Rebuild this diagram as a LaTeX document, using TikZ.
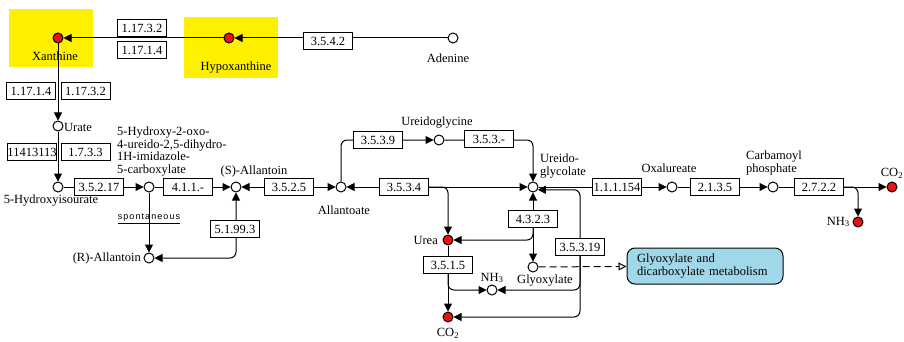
\documentclass[tikz,border=0pt]{standalone}
\usepackage{fontspec}
\setmainfont{Liberation Serif}
\newfontfamily\spfont[LetterSpace=12]{Liberation Sans}
\usepackage{tikz}
\usetikzlibrary{arrows.meta,backgrounds}
\definecolor{hilite}{HTML}{FFF000}
\definecolor{hitred}{HTML}{EE1111}
\definecolor{mapblue}{HTML}{A0D8EA}
\tikzset{
  cpd/.style={circle, draw=black, fill=#1, line width=1pt, minimum size=10pt, inner sep=0pt},
  cpd/.default=white,
  ec/.style={draw=black, fill=white, line width=1pt, minimum width=49pt, minimum height=17pt,
    inner sep=0pt, font=\fontsize{12.5}{12.5}\selectfont},
  hl/.style={fill=hilite, inner sep=0pt},
  lbl/.style={inner sep=0pt, font=\fontsize{12.5}{12.5}\selectfont, align=left},
  rxn/.style={-{Triangle[length=8pt,width=8pt]}, line width=1pt, rounded corners=6pt},
  rxnb/.style={{Triangle[length=8pt,width=8pt]}-{Triangle[length=8pt,width=8pt]}, line width=1pt,
    rounded corners=6pt},
  mapbox/.style={rounded corners=8pt, draw=black, fill=mapblue, line width=1pt, text width=136pt,
    inner xsep=10pt, minimum height=36pt, align=left, font=\fontsize{12.5}{12.5}\selectfont},
  maplink/.style={-{Triangle[open,length=8pt,width=8pt]}, dash pattern=on 7pt off 4pt, line width=1pt},
}

\begin{document}
\begin{tikzpicture}[x=1pt,y=-1pt]
  \useasboundingbox (0,0) rectangle (904,342);
  % compounds
  \node[cpd=hitred] (xan) at (58,38) {};
  \node[cpd=hitred] (hyp) at (229,38) {};
  \node[cpd] (ade) at (453,38) {};
  \node[cpd] (urate) at (58,126) {};
  \node[cpd] (hiu) at (58,187) {};
  \node[cpd] (ohcu) at (149,187) {};
  \node[cpd] (sall) at (236,187) {};
  \node[cpd] (rall) at (149,258) {};
  \node[cpd] (allt) at (341,187) {};
  \node[cpd] (ugly) at (439,140) {};
  \node[cpd] (uglc) at (533,187) {};
  \node[cpd=hitred] (urea) at (448,240) {};
  \node[cpd] (glyox) at (533,267) {};
  \node[cpd] (nh3a) at (492,290) {};
  \node[cpd=hitred] (co2a) at (448,317) {};
  \node[cpd] (oxal) at (672,187) {};
  \node[cpd] (cbp) at (773,187) {};
  \node[cpd=hitred] (co2b) at (892,187) {};
  \node[cpd=hitred] (nh3b) at (858,222) {};
  % labels
  \node[lbl] (lxan) at (55,56) {Xanthine};
  \node[lbl] (lhyp) at (236,68) {Hypoxanthine};
  \node[lbl] (lade) at (448,58) {Adenine};
  \node[lbl,anchor=west] (lurate) at (64,127) {Urate};
  \node[lbl] (lhiu) at (51,201) {5-Hydroxyisourate};
  \node[lbl,anchor=north west] (lohcu) at (117,127) {5-Hydroxy-2-oxo-\\4-ureido-2,5-dihydro-\\1H-imidazole-\\5-carboxylate};
  \node[lbl] (lsall) at (254,171) {(S)-Allantoin};
  \node[lbl,anchor=east] (lrall) at (141,258) {(R)-Allantoin};
  \node[inner sep=0pt, font=\spfont\fontsize{9}{9}\selectfont] (lspont) at (149,219) {\underline{spontaneous}};
  \node[lbl] (lallt) at (344,210) {Allantoate};
  \node[lbl] (lugly) at (437,123) {Ureidoglycine};
  \node[lbl,anchor=north west] (luglc) at (540,154) {Ureido-\\glycolate};
  \node[lbl,anchor=east] (lurea) at (438,240) {Urea};
  \node[lbl] (lglyox) at (545,281) {Glyoxylate};
  \node[lbl] (lnh3a) at (492,278) {NH\textsubscript{3}};
  \node[lbl] (lco2a) at (448,333) {CO\textsubscript{2}};
  \node[lbl] (loxal) at (669,168) {Oxalureate};
  \node[lbl,anchor=north west] (lcbp) at (746,151) {Carbamoyl\\phosphate};
  \node[lbl] (lco2b) at (892,173) {CO\textsubscript{2}};
  \node[lbl,anchor=east] (lnh3b) at (850,222) {NH\textsubscript{3}};
  % enzymes
  \node[ec] (e1) at (142,28) {1.17.3.2};
  \node[ec] (e2) at (142,50) {1.17.1.4};
  \node[ec] (e3) at (328,41) {3.5.4.2};
  \node[ec] (e4) at (31,91) {1.17.1.4};
  \node[ec] (e5) at (85.5,91) {1.17.3.2};
  \node[ec] (e6) at (32,152) {11413113};
  \node[ec] (e7) at (85.5,152) {1.7.3.3};
  \node[ec] (e8) at (99,187) {3.5.2.17};
  \node[ec] (e9) at (188,187) {4.1.1.-};
  \node[ec] (e10) at (289,187) {3.5.2.5};
  \node[ec] (e11) at (235,229) {5.1.99.3};
  \node[ec] (e12) at (378,140) {3.5.3.9};
  \node[ec] (e13) at (489,139) {3.5.3.-};
  \node[ec] (e14) at (404,187) {3.5.3.4};
  \node[ec] (e15) at (533,219) {4.3.2.3};
  \node[ec] (e16) at (580,247) {3.5.3.19};
  \node[ec] (e17) at (448,265) {3.5.1.5};
  \node[ec] (e18) at (617,187) {1.1.1.154};
  \node[ec] (e19) at (715,187) {2.1.3.5};
  \node[ec] (e20) at (819,187) {2.7.2.2};
  \node[mapbox] (glymap) at (705,266) {Glyoxylate and\\dicarboxylate metabolism};
  \begin{pgfonlayer}{background}
    \node[hl, minimum width=84pt, minimum height=58pt] (hlxan) at (51,38) {};
    \node[hl, minimum width=94pt, minimum height=61pt] (hlhyp) at (231,47.5) {};
    \draw[rxn] (hyp) -- (xan);
    \draw[rxn] (ade) -- (hyp);
    \draw[rxn] (xan) -- (urate);
    \draw[rxn] (urate) -- (hiu);
    \draw[rxn] (hiu) -- (ohcu);
    \draw[rxn] (ohcu) -- (sall);
    \draw[rxn] (ohcu) -- (rall);
    \draw[rxnb] (sall) |- (rall);
    \draw[rxnb] (sall) -- (allt);
    \draw[rxn] (allt) |- (ugly);
    \draw[rxn] (ugly) -| (uglc);
    \draw[rxnb] (allt) -- (uglc);
    \draw[rxn] (e14.east) -| (urea);
    \draw[rxnb] (uglc) -- (glyox);
    \draw[rxn] (e15.south) |- (urea);
    \draw[rxnb] (uglc.-30) -| (e16.north) -- (e16.south) |- (co2a);
    \draw[rxn] (e16.south) |- (nh3a);
    \draw[rxn] (urea) -- (co2a);
    \draw[rxn] (e17.south) |- (nh3a);
    \draw[maplink] (glyox) -- (glymap);
    \draw[rxn] (uglc) -- (oxal);
    \draw[rxn] (oxal) -- (cbp);
    \draw[rxn] (cbp) -- (co2b);
    \draw[rxn] (e20.east) -| (nh3b);
  \end{pgfonlayer}
\end{tikzpicture}
\end{document}
